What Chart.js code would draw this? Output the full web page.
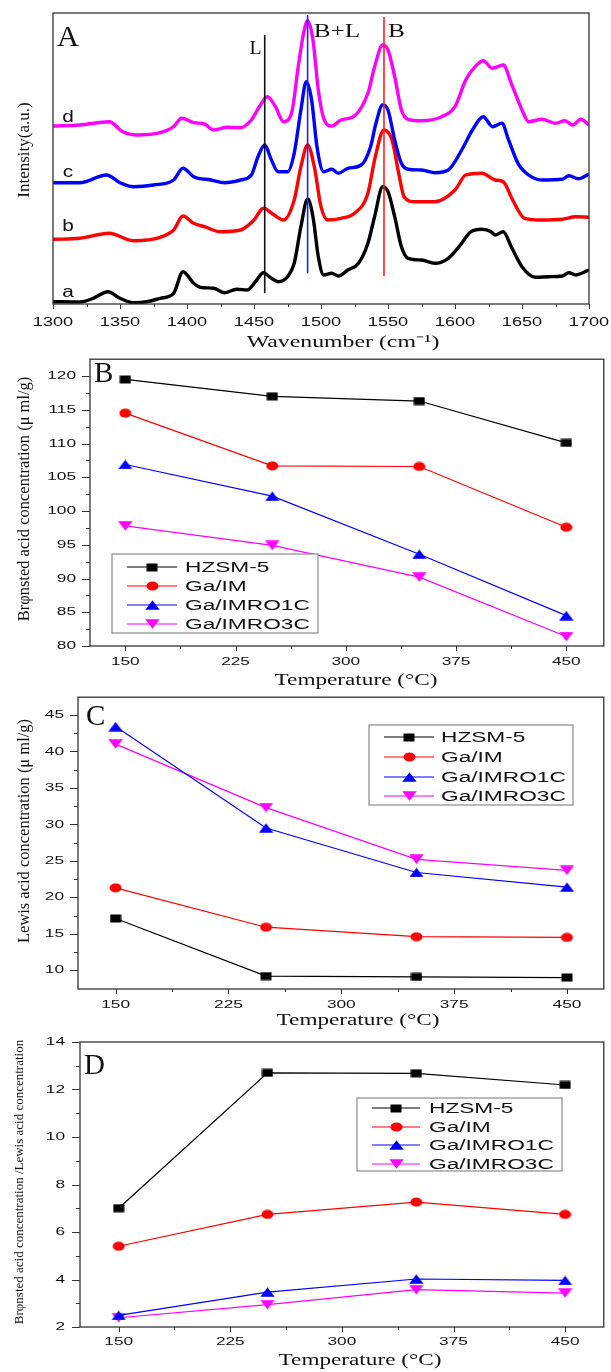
<!DOCTYPE html>
<html>
<head>
<meta charset="utf-8">
<script src="https://cdn.jsdelivr.net/npm/chart.js@4.4.1/dist/chart.umd.min.js"></script>
<style>
html, body { margin: 0; padding: 0; background: #fff; }
body { width: 611px; height: 1372px; position: relative; overflow: hidden; }
canvas { position: absolute; left: 0; }
</style>
</head>
<body>
<canvas id="chA" width="611" height="352" style="top:0px"></canvas>
<canvas id="chB" width="611" height="338" style="top:352px"></canvas>
<canvas id="chC" width="611" height="340" style="top:690px"></canvas>
<canvas id="chD" width="611" height="342" style="top:1030px"></canvas>
<script>
// ---- panel A : IR spectra (intensity in arbitrary units, stacked) ----
const aWave = [1300,1320,1330,1341,1350,1360,1370,1380,1390,1397,1405,1410,1420,1428,1437,1445,1452,1457,1462,1468,1475,1480,1485,1490,1494,1498,1502,1508,1513,1520,1528,1535,1540,1546,1550,1555,1560,1565,1575,1585,1595,1603,1612,1620,1627,1630,1636,1642,1650,1660,1670,1680,1685,1690,1700];
const aInt = [2.3,2,5.7,12.3,5.7,1.3,2.3,5.7,10.7,32.3,20.7,16.7,15.7,11.3,14.7,14,24,31.3,26.7,22.3,27.3,40.7,77.3,105,87.3,47.3,29,30.7,28,34,40.7,60.7,87.3,117.3,112.3,87.3,57.3,45.7,44,40.7,45.7,57.3,72.3,74.7,72.3,69,72.3,57.3,37.3,26.7,27.3,28,31.3,29,34];
const bWave = [1300,1320,1342,1360,1380,1390,1397,1405,1413,1425,1440,1450,1457,1465,1472,1480,1485,1490,1495,1500,1505,1515,1525,1535,1540,1547,1553,1558,1562,1570,1585,1600,1608,1620,1630,1636,1643,1652,1665,1680,1690,1700];
const bInt = [64.7,65.7,70.7,63.3,66.7,74,88,80.7,77.3,72.3,74,84,95.7,89,84,104,137.3,159,137.3,97.3,84,85.7,90.7,110.7,144,174,164,130.7,107.3,102.3,102.3,114,129,130.7,124,122.3,104,85.7,84,84.7,87.3,86.7];
const cWave = [1300,1320,1340,1350,1360,1375,1390,1397,1405,1418,1428,1440,1448,1453,1458,1463,1468,1475,1480,1485,1489,1493,1497,1502,1508,1513,1520,1530,1537,1541,1546,1550,1555,1560,1565,1575,1585,1595,1605,1613,1621,1628,1635,1640,1647,1655,1665,1680,1685,1692,1700];
const cInt = [121.3,121.3,129,121.3,117.3,119,124,135.7,127.3,124,121.3,124,129,147.3,159,144,132.3,132.3,150.7,194,222.3,204,157.3,132.3,134.7,130.7,135.7,139,157.3,180.7,199,194,164,140.7,134.7,134,131.3,134,154,174,187.3,177.3,180.7,164,140.7,129,124,124.7,128.3,125.3,130];
const dWave = [1300,1320,1342,1352,1363,1380,1390,1396,1405,1413,1420,1430,1440,1448,1454,1460,1466,1472,1478,1483,1487,1490,1494,1498,1502,1508,1515,1525,1535,1540,1546,1550,1555,1560,1565,1575,1590,1600,1608,1615,1621,1628,1636,1642,1650,1655,1665,1675,1682,1688,1694,1700];
const dInt = [178,179,182.3,172.3,169,171.3,177.3,185.7,181.3,180,174,176.7,176.3,184,197.3,207.3,197.3,182.3,190.7,237.3,270.7,283.3,264,214,185.7,178,184,188,210.7,237.3,259,254,227.3,194,184.7,183.3,187.3,197.3,224,237.3,243.3,235.7,239,220.7,194,182.3,184.7,180.7,183.3,179,184.7,179];
const peakNames = ['L', 'B+L', 'B'];
const peakWave = [1458, 1490, 1547];
const peakLow = [10.7, 30.7, 28];
const peakHigh = [269, 289, 287];
const waveTicks = [1300, 1350, 1400, 1450, 1500, 1550, 1600, 1650, 1700];
const waveMinor = [1325, 1375, 1425, 1475, 1525, 1575, 1625, 1675];

// ---- panels B-D : acid concentration vs temperature ----
const samples = ['HZSM-5', 'Ga/IM', 'Ga/IMRO1C', 'Ga/IMRO3C'];
const temperatures = [150, 250, 350, 450];
const bronsted = [
  [119.5, 117.0, 116.3, 110.1],
  [114.5, 106.7, 106.6, 97.6],
  [106.9, 102.2, 93.6, 84.5],
  [97.8, 94.9, 90.2, 81.4]
];
const lewis = [
  [17.1, 9.2, 9.1, 9.0],
  [21.3, 15.9, 14.6, 14.5],
  [43.4, 29.5, 23.4, 21.4],
  [41.0, 32.3, 25.2, 23.7]
];
const ratio = [
  [7.0, 12.7, 12.68, 12.19],
  [5.4, 6.74, 7.26, 6.74],
  [2.49, 3.47, 4.02, 3.96],
  [2.39, 2.94, 3.57, 3.43]
];
const tempTicks = [150, 225, 300, 375, 450];
const tempMinor = [187.5, 262.5, 337.5, 412.5];
const bronstedTicks = [80, 85, 90, 95, 100, 105, 110, 115, 120];
const bronstedMinor = [82.5, 87.5, 92.5, 97.5, 102.5, 107.5, 112.5, 117.5];
const lewisTicks = [10, 15, 20, 25, 30, 35, 40, 45];
const lewisMinor = [12.5, 17.5, 22.5, 27.5, 32.5, 37.5, 42.5];
const ratioTicks = [2, 4, 6, 8, 10, 12, 14];
const ratioMinor = [3, 5, 7, 9, 11, 13];

// styles
const seriesColors = ['#000000', '#ff0000', '#0000ff', '#ff00ff'];
const seriesShapes = ['rect', 'circle', 'triUp', 'triDown'];
const SERIF = '"Liberation Serif", "Times New Roman", serif';
const SANS = '"Liberation Sans", Arial, sans-serif';

// small elliptic / flattened markers like the original
function markerImage(shape, color) {
  const w = shape === 'rect' ? 12 : shape === 'circle' ? 13 : 15;
  const h = shape === 'rect' ? 9 : 10;
  const c = document.createElement('canvas');
  c.width = w; c.height = h;
  const g = c.getContext('2d');
  g.fillStyle = color;
  g.beginPath();
  if (shape === 'rect') {
    g.rect(0.5, 0.5, w - 1, h - 1);
  } else if (shape === 'circle') {
    g.ellipse(w / 2, h / 2, w / 2 - 0.5, h / 2 - 0.5, 0, 0, Math.PI * 2);
  } else if (shape === 'triUp') {
    g.moveTo(w / 2, 0.3); g.lineTo(w - 0.3, h - 0.3); g.lineTo(0.3, h - 0.3);
  } else {
    g.moveTo(0.3, 0.3); g.lineTo(w - 0.3, 0.3); g.lineTo(w / 2, h - 0.3);
  }
  g.closePath();
  g.fill();
  return c;
}

function stretchText(ctx, s, x, y, sx, rot) {
  ctx.save();
  ctx.translate(x, y);
  if (rot) ctx.rotate(rot);
  ctx.scale(sx || 1, 1);
  ctx.fillText(s, 0, 0);
  ctx.restore();
}

// frame, tick marks, tick labels, annotations and the boxed legend
function decor(cfg) {
  return {
    id: 'decor',
    afterDatasetsDraw(chart) {
      const { ctx, chartArea: a } = chart;
      const xs = chart.scales.x, ys = chart.scales.y;
      ctx.save();
      ctx.strokeStyle = '#333';
      ctx.lineWidth = 1.3;
      ctx.strokeRect(a.left, a.top, a.right - a.left, a.bottom - a.top);

      ctx.lineWidth = 1;
      ctx.beginPath();
      cfg.xMinor.forEach(v => { const p = Math.round(xs.getPixelForValue(v)) + 0.5; ctx.moveTo(p, a.bottom); ctx.lineTo(p, a.bottom + 3); });
      cfg.xMajor.forEach(v => { const p = Math.round(xs.getPixelForValue(v)) + 0.5; ctx.moveTo(p, a.bottom); ctx.lineTo(p, a.bottom + 5); });
      (cfg.yMinor || []).forEach(v => { const p = Math.round(ys.getPixelForValue(v)) + 0.5; ctx.moveTo(a.left, p); ctx.lineTo(a.left - 4, p); });
      (cfg.yMajor || []).forEach(v => { const p = Math.round(ys.getPixelForValue(v)) + 0.5; ctx.moveTo(a.left, p); ctx.lineTo(a.left - 8, p); });
      ctx.stroke();

      ctx.fillStyle = '#111';
      ctx.textBaseline = 'middle';
      ctx.font = cfg.tickFont;
      ctx.textAlign = 'center';
      cfg.xMajor.forEach(v => stretchText(ctx, String(v), xs.getPixelForValue(v), a.bottom + cfg.xGap, cfg.tickSx));
      ctx.textAlign = 'right';
      (cfg.yMajor || []).forEach(v => stretchText(ctx, String(v), a.left - cfg.yGap, ys.getPixelForValue(v), cfg.tickSx));

      cfg.texts.forEach(t => {
        ctx.font = t.font;
        ctx.fillStyle = t.color || '#111';
        ctx.textAlign = t.align || 'center';
        stretchText(ctx, t.text, t.x, t.y, t.sx, t.rot);
      });

      const L = cfg.legend;
      if (L) {
        ctx.fillStyle = '#fff';
        ctx.fillRect(L.box[0], L.box[1], L.box[2] - L.box[0], L.box[3] - L.box[1]);
        ctx.strokeStyle = '#8a8a8a';
        ctx.lineWidth = 1.2;
        ctx.strokeRect(L.box[0], L.box[1], L.box[2] - L.box[0], L.box[3] - L.box[1]);
        chart.data.datasets.forEach((ds, i) => {
          const yy = L.rows[i];
          ctx.strokeStyle = ds.borderColor;
          ctx.lineWidth = 1.2;
          ctx.beginPath();
          ctx.moveTo(L.x1, yy); ctx.lineTo(L.x2, yy);
          ctx.stroke();
          const img = ds.pointStyle;
          ctx.drawImage(img, Math.round((L.x1 + L.x2) / 2 - img.width / 2), Math.round(yy - img.height / 2));
          ctx.fillStyle = '#111';
          ctx.font = '14px ' + SANS;
          ctx.textAlign = 'left';
          stretchText(ctx, ds.label, L.tx, yy + 1, 1.62);
        });
      }
      ctx.restore();
    }
  };
}

function baseOptions(pad, xr, yr) {
  return {
    responsive: false,
    animation: false,
    devicePixelRatio: 1,
    layout: { padding: pad },
    plugins: { legend: { display: false }, tooltip: { enabled: false } },
    scales: {
      x: { type: 'linear', display: false, min: xr[0], max: xr[1] },
      y: { type: 'linear', display: false, min: yr[0], max: yr[1] }
    }
  };
}

const toPoints = (xs, ys) => xs.map((v, i) => ({ x: v, y: ys[i] }));

// ---------- panel A ----------
const peakColors = ['#111111', '#1f1fff', '#ff2020'];
const curveDefs = [[dWave, dInt, '#ff00ff'], [cWave, cInt, '#0000ff'], [bWave, bInt, '#ff0000'], [aWave, aInt, '#000000']];
const specSets = [];
peakWave.forEach((w, i) => specSets.push({
  label: peakNames[i],
  data: [{ x: w, y: peakLow[i] }, { x: w, y: peakHigh[i] }],
  borderColor: peakColors[i], borderWidth: 1.6, pointRadius: 0
}));
curveDefs.forEach(c => specSets.push({
  data: toPoints(c[0], c[1]),
  borderColor: c[2], borderWidth: 3.4, pointRadius: 0,
  cubicInterpolationMode: 'monotone'
}));

new Chart(document.getElementById('chA'), {
  type: 'line',
  data: { datasets: specSets },
  options: baseOptions({ left: 53, top: 13, right: 22, bottom: 48 }, [1300, 1700], [0, 291]),
  plugins: [decor({
    xMajor: waveTicks, xMinor: waveMinor,
    tickFont: '12.5px ' + SANS, tickSx: 1.45, xGap: 19, yGap: 14,
    texts: [
      { text: 'A', x: 57, y: 38, font: '29px ' + SERIF, align: 'left', sx: 1.05 },
      { text: peakNames[0], x: 255.5, y: 49, font: '18px ' + SERIF, sx: 1.1 },
      { text: peakNames[1], x: 337, y: 32.5, font: '18px ' + SERIF, sx: 1.4 },
      { text: peakNames[2], x: 396.5, y: 32, font: '18px ' + SERIF, sx: 1.4 },
      { text: 'd', x: 68, y: 118, font: '16px ' + SANS, sx: 1.3 },
      { text: 'c', x: 68, y: 173, font: '16px ' + SANS, sx: 1.3 },
      { text: 'b', x: 68, y: 227, font: '16px ' + SANS, sx: 1.3 },
      { text: 'a', x: 68, y: 293, font: '16px ' + SANS, sx: 1.3 },
      { text: 'Intensity(a.u.)', x: 25, y: 150, font: '17px ' + SERIF, rot: -Math.PI / 2 },
      { text: 'Wavenumber (cm⁻¹)', x: 343, y: 343, font: '17px ' + SERIF, sx: 1.4 }
    ]
  })]
});

// ---------- panels B, C, D ----------
function tempChart(id, values, pad, xr, yr, deco) {
  const sets = samples.map((name, i) => ({
    label: name,
    data: toPoints(temperatures, values[i]),
    borderColor: seriesColors[i],
    borderWidth: 1.2,
    pointStyle: markerImage(seriesShapes[i], seriesColors[i]),
    pointRadius: 6,
    tension: 0
  }));
  new Chart(document.getElementById(id), {
    type: 'line',
    data: { datasets: sets },
    options: baseOptions(pad, xr, yr),
    plugins: [decor(deco)]
  });
}

tempChart('chB', bronsted, { left: 90, top: 1, right: 3, bottom: 44 }, [126, 475.5], [80, 122.5], {
  xMajor: tempTicks, xMinor: tempMinor, yMajor: bronstedTicks, yMinor: bronstedMinor,
  tickFont: '11.5px ' + SANS, tickSx: 1.5, xGap: 16, yGap: 14,
  texts: [
    { text: 'B', x: 94, y: 22, font: '29px ' + SERIF, align: 'left' },
    { text: 'Brφnsted acid concentration (μ ml/g)', x: 25, y: 147, font: '16.5px ' + SERIF, rot: -Math.PI / 2 },
    { text: 'Temperature (°C)', x: 356, y: 329, font: '16px ' + SERIF, sx: 1.45 }
  ],
  legend: { box: [112, 202, 318, 281], rows: [215, 234, 253, 272], x1: 127, x2: 177, tx: 185 }
});

tempChart('chC', lewis, { left: 78, top: 3, right: 3, bottom: 41 }, [125, 474.5], [7.43, 47.43], {
  xMajor: tempTicks, xMinor: tempMinor, yMajor: lewisTicks, yMinor: lewisMinor,
  tickFont: '11.5px ' + SANS, tickSx: 1.5, xGap: 16, yGap: 14,
  texts: [
    { text: 'C', x: 86, y: 27, font: '29px ' + SERIF, align: 'left' },
    { text: 'Lewis acid concentration (μ ml/g)', x: 25, y: 141, font: '16.5px ' + SERIF, rot: -Math.PI / 2 },
    { text: 'Temperature (°C)', x: 358, y: 331, font: '16px ' + SERIF, sx: 1.45 }
  ],
  legend: { box: [369, 35, 573, 115], rows: [47, 67, 87, 106], x1: 384, x2: 434, tx: 441 }
});

tempChart('chD', ratio, { left: 80, top: 12, right: 3, bottom: 45 }, [124, 476], [2, 14], {
  xMajor: tempTicks, xMinor: tempMinor, yMajor: ratioTicks, yMinor: ratioMinor,
  tickFont: '11.5px ' + SANS, tickSx: 1.5, xGap: 15, yGap: 15,
  texts: [
    { text: 'D', x: 84, y: 36, font: '29px ' + SERIF, align: 'left' },
    { text: 'Brφnsted acid concentration /Lewis acid concentration', x: 19.5, y: 152, font: '13px ' + SERIF, rot: -Math.PI / 2 },
    { text: 'Temperature (°C)', x: 360, y: 331, font: '16px ' + SERIF, sx: 1.45 }
  ],
  legend: { box: [357, 68, 562, 141], rows: [78, 97, 115, 134], x1: 372, x2: 420, tx: 429 }
});
</script>
</body>
</html>
